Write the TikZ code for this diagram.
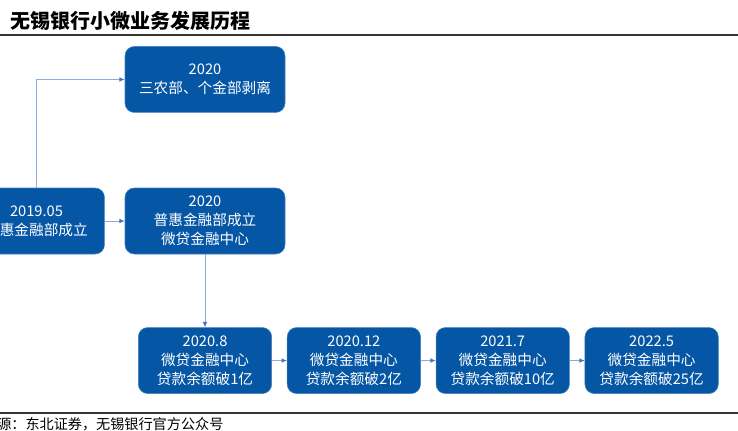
\documentclass[tikz,border=0pt]{standalone}
\usepackage{fontspec}
\setmainfont{Noto Sans CJK SC}
\usetikzlibrary{arrows.meta,positioning}

\definecolor{boxblue}{HTML}{0656A6}
\definecolor{linkblue}{HTML}{8EAADF}
\definecolor{tipblue}{HTML}{4472C4}
\definecolor{rulegray}{HTML}{333333}

\begin{document}
\begin{tikzpicture}[x=0.75pt,y=-0.75pt,
  event/.style={draw=boxblue!75!white, fill=boxblue, rounded corners=7pt,
    text=white, align=center, inner sep=0pt, minimum height=49.5pt,
    font=\fontsize{11}{14.25}\selectfont},
  link/.style={linkblue, line width=0.75pt,
    -{Latex[length=4pt,width=3.5pt,color=tipblue]}},
  titlerule/.style={rulegray, line width=1.1pt}]
  \useasboundingbox (0,0) rectangle (738,430);
  \clip (0,0) rectangle (738,430);

  % heading and source
  \node[anchor=west, font=\fontsize{15}{18}\selectfont\bfseries] (title) at (6,20.5) {无锡银行小微业务发展历程};
  \draw[titlerule] (0,35) -- (738,35);
  \draw[titlerule] (0,413) -- (738,413);
  \node[anchor=west, inner sep=0pt, font=\fontsize{10.6}{12}\selectfont] (source) at (-3,424) {源：东北证券，无锡银行官方公众号};

  % milestones
  \node[event, minimum width=120pt] (center) at (205,221) {2020\\普惠金融部成立\\微贷金融中心};
  \node[event, minimum width=102pt, left=15pt of center] (dept) {2019.05\\普惠金融部成立};
  \node[event, minimum width=120pt, above=56.25pt of center] (split) {2020\\三农部、个金部剥离};
  \node[event, minimum width=100pt, below=54.75pt of center] (loanA) {2020.8\\微贷金融中心\\贷款余额破1亿};
  \node[event, minimum width=100pt, right=11.25pt of loanA] (loanB) {2020.12\\微贷金融中心\\贷款余额破2亿};
  \node[event, minimum width=100pt, right=11.25pt of loanB] (loanC) {2021.7\\微贷金融中心\\贷款余额破10亿};
  \node[event, minimum width=100pt, right=11.25pt of loanC] (loanD) {2022.5\\微贷金融中心\\贷款余额破25亿};

  \draw[link] (dept.north) |- (split.west);
  \draw[link] (dept) -- (center);
  \draw[link] (center) -- (loanA);
  \draw[link] (loanA) -- (loanB);
  \draw[link] (loanB) -- (loanC);
  \draw[link] (loanC) -- (loanD);
\end{tikzpicture}
\end{document}
